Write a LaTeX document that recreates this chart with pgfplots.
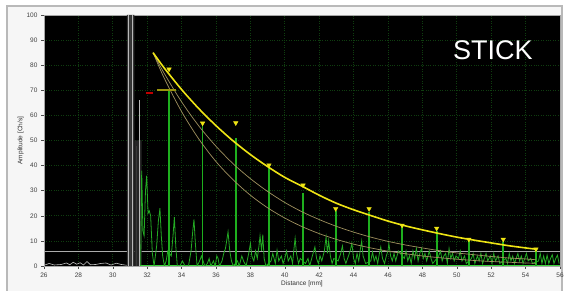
\documentclass[border=0pt]{standalone}
\usepackage{pgfplots}
\pgfplotsset{compat=1.18}
\usepackage{fontspec}
\setmainfont{Liberation Sans}
\definecolor{stickgreen}{RGB}{30,175,30}
\definecolor{basegreen}{RGB}{60,215,60}
\definecolor{noisegreen}{RGB}{35,170,35}
\definecolor{envyellow}{RGB}{238,228,20}
\definecolor{thintan}{RGB}{160,145,95}
\definecolor{gridgreen}{RGB}{15,62,15}
\definecolor{panelbg}{RGB}{246,246,246}
\definecolor{framegray}{RGB}{185,185,185}
\begin{document}
\begin{tikzpicture}
\path[use as bounding box] (-44pt,-25pt) rectangle (520pt,266pt);
\fill[white] (-44pt,-25pt) rectangle (520pt,266pt);
\fill[panelbg] (-37pt,-25pt) rectangle (518pt,260pt);
\draw[framegray, line width=1.5pt] (-37pt,-26pt) -- (-37pt,260pt) -- (518pt,260pt) -- (518pt,-26pt);
\begin{axis}[
  at={(0pt,0pt)}, anchor=south west,
  scale only axis, width=516pt, height=251pt,
  xmin=26, xmax=56, ymin=0, ymax=100,
  xtick={26,28,...,56}, ytick={0,10,...,100},
  grid=major,
  major grid style={dotted, color=gridgreen, line width=0.7pt},
  axis background/.style={fill=black},
  axis line style={gray!70},
  tick align=outside, xtick pos=left, ytick pos=left,
  major tick length=3pt,
  tick style={black!70, line width=0.4pt},
  ticklabel style={font=\fontsize{6.5}{7}\selectfont, text=black!75},
  /pgf/number format/assume math mode=true,
  xlabel={Distance [mm]}, ylabel={Amplitude [Ch/s]},
  label style={font=\fontsize{6.5}{7}\selectfont, text=black!80},
  xlabel style={yshift=3pt},
  ylabel style={yshift=-4pt},
  clip=true,
]
% threshold line
\addplot[gray!65, line width=1pt] coordinates {(26,5.9) (56,5.9)};
% gray band near 31 mm
\addplot[fill=gray!40!black, draw=none] coordinates {(30.82,0) (30.82,100) (31.25,100) (31.25,0)} \closedcycle;
\addplot[fill=gray!30!black, draw=none] coordinates {(31.25,0) (31.25,50) (31.68,50) (31.68,0)} \closedcycle;
\addplot[gray!55, line width=1.1pt, ycomb] coordinates {(30.9,100) (31.17,100) (31.53,66)};
\addplot[gray!45!black, line width=0.8pt, ycomb] coordinates {(31.03,100) (31.35,48)};
% left low noise (white-ish)
\addplot[gray!50!white, line width=0.6pt] coordinates {
(26,0.3) (26.3,1) (26.6,0.4) (27.0,0.6) (27.3,1.2) (27.5,0.5) (27.7,1.5) (27.9,0.7)
(28.1,1.3) (28.3,0.4) (28.5,1.8) (28.7,0.5) (29.0,0.6) (29.3,1.0) (29.6,1.2) (29.9,0.4)
(30.2,1.1) (30.5,0.6) (30.8,0.3)};
% green baseline
\addplot[basegreen, line width=1.2pt] coordinates {(31.6,0.2) (56,0.2)};
% green noise trace
\addplot[noisegreen, line width=0.8pt] coordinates {
(31.62,0) (31.68,38) (31.75,14) (31.82,12) (31.9,30) (31.97,36) (32.05,21) (32.12,22) (32.2,20)
(32.3,5) (32.4,0) (32.55,8) (32.65,18) (32.74,23) (32.82,12) (32.9,4) (33.0,0) (33.1,2) (33.2,6)
(33.4,4) (33.5,12) (33.58,19.5) (33.66,8) (33.75,0) (33.9,0) (34.05,2) (34.2,0) (34.4,0)
(34.55,6) (34.65,14) (34.72,18.6) (34.8,9) (34.9,0) (35.05,2) (35.15,4) (35.35,0) (35.5,1)
(35.6,3) (35.7,0) (35.85,2) (35.95,0) (36.05,4) (36.12,3) (36.2,0) (36.35,2) (36.45,5) (36.55,7)
(36.62,10) (36.7,13.6) (36.8,6) (36.9,2) (37.0,0) (37.25,2) (37.35,0) (37.5,4) (37.6,2) (37.75,0)
(37.9,5) (38.0,9) (38.08,4) (38.2,2) (38.3,6) (38.4,3) (38.5,8) (38.56,12) (38.65,6) (38.72,12.5)
(38.8,3) (38.9,0) (39.2,2) (39.3,5) (39.45,1) (39.55,6.3) (39.65,2) (39.8,4) (39.9,1) (40.0,3)
(40.1,6) (40.2,2) (40.35,4) (40.45,1) (40.55,8) (40.6,11) (40.68,5) (40.8,1) (40.9,3) (41.2,1)
(41.35,3) (41.45,0) (41.6,4) (41.75,7.6) (41.85,3) (41.95,1) (42.05,4) (42.15,2) (42.3,6)
(42.4,11.6) (42.48,5) (42.55,10) (42.65,4) (42.75,1) (42.85,3) (43.1,2) (43.25,5) (43.35,8)
(43.45,3) (43.55,1) (43.7,4) (43.8,6) (43.9,9) (44.0,3) (44.1,1) (44.2,5) (44.3,2) (44.4,7)
(44.47,10) (44.55,4) (44.7,1) (45.0,2) (45.1,5.6) (45.2,2) (45.3,4) (45.4,1) (45.5,5) (45.58,7.6)
(45.68,3) (45.8,1) (45.9,4) (46.0,6) (46.05,9) (46.15,4) (46.25,2) (46.35,5) (46.45,2) (46.6,6)
(46.95,3) (47.05,6) (47.15,2) (47.25,4) (47.35,1) (47.45,6) (47.55,3) (47.65,7) (47.75,2)
(47.85,5) (47.95,7) (48.05,3) (48.15,5) (48.25,2) (48.4,6) (48.5,3) (48.6,1) (48.95,4) (49.05,6)
(49.15,2) (49.25,4) (49.35,5) (49.45,1) (49.55,7) (49.65,3) (49.75,5) (49.85,2) (49.95,4)
(50.1,3) (50.2,6) (50.3,2) (50.45,4) (50.55,1) (50.85,3) (50.95,5) (51.05,1) (51.2,4) (51.3,2)
(51.4,5) (51.5,1) (51.6,3) (51.7,5) (51.8,2) (51.95,4) (52.05,1) (52.15,5) (52.25,2) (52.4,4)
(52.5,1) (52.85,3) (52.95,1) (53.05,5) (53.15,2) (53.25,4) (53.35,1) (53.45,3) (53.55,5)
(53.65,2) (53.75,4) (53.85,1) (53.95,3) (54.05,5) (54.15,2) (54.3,3) (54.4,1) (54.75,2)
(54.85,5) (54.95,1) (55.05,4) (55.15,1) (55.25,4.3) (55.35,1) (55.45,3) (55.55,4.5) (55.65,1)
(55.75,3) (55.85,4.3) (55.95,1)};
% sticks
\addplot[stickgreen, line width=1.8pt, ycomb] coordinates {
(33.27,70) (35.22,56) (37.15,51) (39.08,39.4) (41.06,29) (42.96,22) (44.9,21.5)
(46.82,16) (48.83,14) (50.7,10) (52.7,9.6) (54.6,6.3)};
% thin decay curves
\addplot[thintan, line width=0.7pt, smooth] coordinates {
(32.34,85) (33,76.6) (34,65.4) (35,55.8) (36,47.7) (37,40.7) (38,34.8) (39,29.7) (40,25.3)
(41,21.6) (42,18.5) (43,15.8) (44,13.5) (45,11.5) (46,9.8) (47,8.4) (48,7.2) (49,6.1) (50,5.2)
(51,4.5) (52,3.8) (53,3.2) (54,2.8) (54.6,2.5)};
\addplot[thintan, line width=0.7pt, smooth] coordinates {
(32.34,85) (33,74.7) (34,61.5) (35,50.6) (36,41.6) (37,34.3) (38,28.2) (39,23.2) (40,19.1)
(41,15.7) (42,12.9) (43,10.6) (44,8.7) (45,7.2) (46,5.9) (47,4.9) (48,4.0) (49,3.3) (50,2.7)
(51,2.2) (52,1.8) (53,1.5) (54,1.2) (54.6,1.1)};
% main envelope
\addplot[envyellow, line width=1.6pt, smooth] coordinates {
(32.34,85) (33,78.8) (34,70.3) (35,62.7) (36,55.9) (37,49.8) (38,44.4) (39,39.6) (40,35.3)
(41,31.8) (42,28.2) (43,25.0) (44,22.4) (45,20.1) (46,17.9) (47,16.0) (48,14.4) (49,12.9)
(50,11.5) (51,10.3) (52,9.2) (53,8.1) (54,7.2) (54.6,6.7)};
% markers at 70 and red tick
\addplot[red!75!black, line width=1.6pt] coordinates {(31.92,69) (32.32,69)};
\addplot[envyellow!65!black, line width=2pt] coordinates {(32.57,70) (33.67,70)};
% triangles
\addplot[only marks, mark=triangle*, mark size=2.6pt, mark options={rotate=180, fill=envyellow, draw=envyellow}] coordinates {
(33.27,78.4) (35.22,56.9) (37.15,57) (39.08,40.2) (41.06,32.2) (42.96,22.8) (44.9,22.8)
(46.82,16.2) (48.83,15) (50.7,10.6) (52.7,10.6) (54.6,6.7)};
\node[text=white, font=\fontsize{27}{27}\selectfont, anchor=center] at (axis cs:52.1,86) {STICK};
\end{axis}
\end{tikzpicture}
\end{document}
